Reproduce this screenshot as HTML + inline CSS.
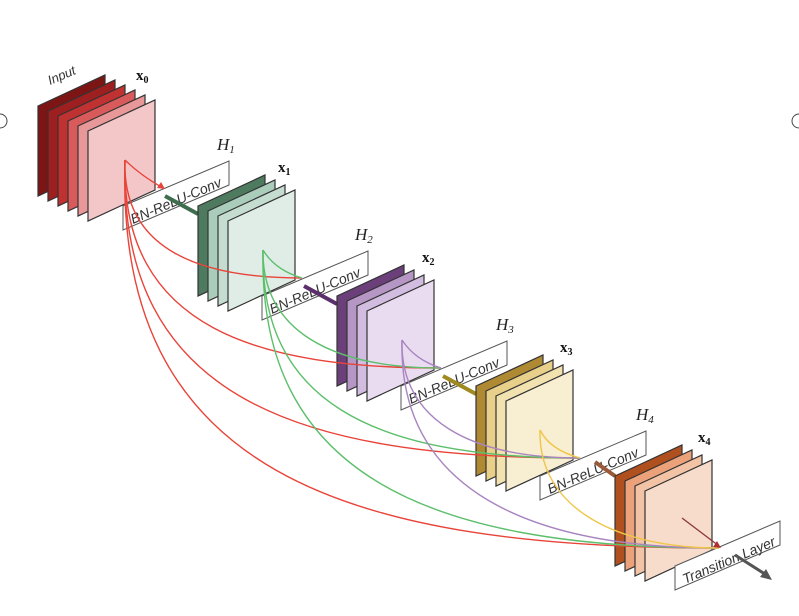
<!DOCTYPE html>
<html><head><meta charset="utf-8"><style>
html,body{margin:0;padding:0;background:#fff;}
svg{display:block;}
.s{stroke:#333;stroke-width:1.2;}
.bx{fill:#fff;stroke:#555;stroke-width:1;}
.bt{font-family:"Liberation Sans",sans-serif;font-size:14px;font-style:italic;fill:#333;}
.h{font-family:"Liberation Serif",serif;font-size:17px;font-style:italic;fill:#222;}
.x{font-family:"Liberation Serif",serif;font-size:15px;font-weight:bold;fill:#111;}
.c{fill:none;stroke-width:1.4;}
</style></head><body>
<svg width="799" height="616" viewBox="0 0 799 616" xmlns="http://www.w3.org/2000/svg">
<circle cx="0" cy="121" r="7" fill="#fff" stroke="#444"/>
<circle cx="799" cy="121" r="7" fill="#fff" stroke="#444"/>

<!-- x0 stack -->
<g class="s">
<polygon points="38,106 105,75 105,165 38,196" fill="#7d1515"/>
<polygon points="48,111 115,80 115,170 48,201" fill="#9e1f1f"/>
<polygon points="58,116 125,85 125,175 58,206" fill="#c03232"/>
<polygon points="68,121 135,90 135,180 68,211" fill="#d85a5a"/>
<polygon points="78,126 145,95 145,185 78,216" fill="#e89898"/>
<polygon points="88,131 155,100 155,190 88,221" fill="#f3c6c8"/>
</g>
<text class="bt" x="0" y="0" transform="translate(50,85) rotate(-23)" style="font-size:13px">Input</text>
<text class="x" x="136" y="80">x<tspan font-size="10" dy="3">0</tspan></text>

<!-- H1 box -->
<polygon class="bx" points="123,206 229,161 229,185 123,230"/>
<text class="bt" transform="translate(133,224) rotate(-23)">BN-ReLU-Conv</text>
<line x1="165" y1="196" x2="198" y2="214" stroke="#3f6e4e" stroke-width="4"/>
<text class="h" x="217" y="150">H<tspan font-size="11" dy="3">1</tspan></text>
<g class="s">
<polygon points="198,206 265,175 265,265 198,296" fill="#4e7a60"/>
<polygon points="208,211 275,180 275,270 208,301" fill="#a9ccbb"/>
<polygon points="218,216 285,185 285,275 218,306" fill="#c5ddd1"/>
<polygon points="228,221 295,190 295,280 228,311" fill="#e0ede6"/>
</g>
<text class="x" x="278" y="172">x<tspan font-size="10" dy="3">1</tspan></text>

<!-- H2 -->
<polygon class="bx" points="262,296 368,251 368,275 262,320"/>
<text class="bt" transform="translate(272,314) rotate(-23)">BN-ReLU-Conv</text>
<line x1="304" y1="286" x2="337" y2="304" stroke="#5a2f6a" stroke-width="4"/>
<text class="h" x="355" y="240">H<tspan font-size="11" dy="3">2</tspan></text>
<g class="s">
<polygon points="337,296 404,265 404,355 337,386" fill="#6b3f7a"/>
<polygon points="347,301 414,270 414,360 347,391" fill="#b596c5"/>
<polygon points="357,306 424,275 424,365 357,396" fill="#d2bde0"/>
<polygon points="367,311 434,280 434,370 367,401" fill="#eadcf0"/>
</g>
<text class="x" x="422" y="262">x<tspan font-size="10" dy="3">2</tspan></text>

<!-- H3 -->
<polygon class="bx" points="401,386 507,341 507,365 401,410"/>
<text class="bt" transform="translate(411,404) rotate(-23)">BN-ReLU-Conv</text>
<line x1="443" y1="376" x2="476" y2="394" stroke="#a08a20" stroke-width="4"/>
<text class="h" x="496" y="330">H<tspan font-size="11" dy="3">3</tspan></text>
<g class="s">
<polygon points="476,386 543,355 543,445 476,476" fill="#b08a32"/>
<polygon points="486,391 553,360 553,450 486,481" fill="#e8cf8a"/>
<polygon points="496,396 563,365 563,455 496,486" fill="#f2e2b0"/>
<polygon points="506,401 573,370 573,460 506,491" fill="#f8eed2"/>
</g>
<text class="x" x="560" y="352">x<tspan font-size="10" dy="3">3</tspan></text>

<!-- H4 -->
<polygon class="bx" points="540,476 646,431 646,455 540,500"/>
<text class="bt" transform="translate(550,494) rotate(-23)">BN-ReLU-Conv</text>
<line x1="595" y1="462" x2="615" y2="476" stroke="#9a5a3a" stroke-width="4"/>
<text class="h" x="636" y="420">H<tspan font-size="11" dy="3">4</tspan></text>
<g class="s">
<polygon points="615,476 682,445 682,535 615,566" fill="#b0501f"/>
<polygon points="625,481 692,450 692,540 625,571" fill="#eba27a"/>
<polygon points="635,486 702,455 702,545 635,576" fill="#f3c3a5"/>
<polygon points="645,491 712,460 712,550 645,581" fill="#f8dccb"/>
</g>
<text class="x" x="698" y="442">x<tspan font-size="10" dy="3">4</tspan></text>

<!-- Transition -->
<polygon class="bx" points="675,566 780,521 780,545 675,590"/>
<text class="bt" transform="translate(685,584) rotate(-23)">Transition Layer</text>
<line x1="735" y1="555" x2="768" y2="576" stroke="#555" stroke-width="3"/>
<polygon points="772,580 760,577 766,569" fill="#555"/>

<!-- curves -->
<g class="c" stroke="#e8443a">
<path d="M125,160 Q140,175 163,188"/>
<path d="M125,160 C122,250 200,278 302,278"/>
<path d="M125,160 C120,330 260,368 441,368"/>
<path d="M125,160 C118,400 300,458 580,458"/>
<path d="M125,160 C115,470 340,548 719,548"/>
</g>
<g class="c" stroke="#5cbf6b">
<path d="M263,250 Q275,270 302,278"/>
<path d="M263,250 C262,330 330,368 441,368"/>
<path d="M263,250 C260,400 370,458 580,458"/>
<path d="M263,250 C258,470 420,548 719,548"/>
</g>
<g class="c" stroke="#a884c0">
<path d="M402,340 Q415,360 441,368"/>
<path d="M402,340 C400,420 470,458 580,458"/>
<path d="M402,340 C398,490 530,548 719,548"/>
</g>
<g class="c" stroke="#f0c64a">
<path d="M540,430 Q550,450 580,458"/>
<path d="M540,430 C538,510 620,548 719,548"/>
</g>
<path class="c" stroke="#8b3a3a" d="M682,518 L719,546"/>
<polygon points="165,189 157,188 161,182" fill="#e8443a"/>
<polygon points="721,548 713,547 717,541" fill="#b03030"/>
</svg>
</body></html>
